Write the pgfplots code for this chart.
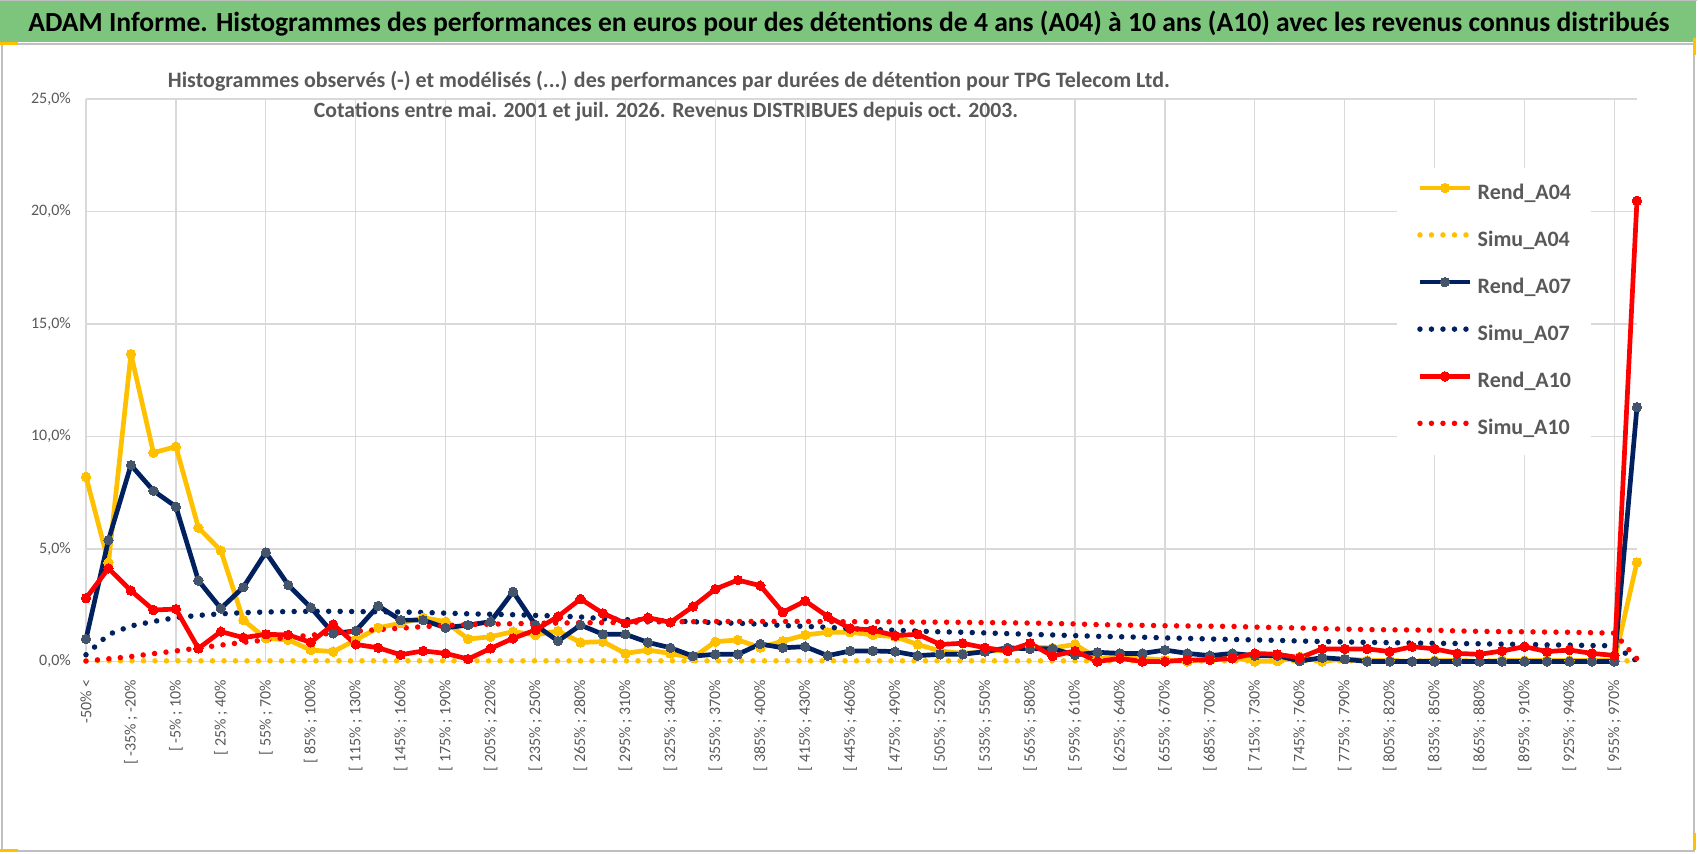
\documentclass[border=0pt]{standalone}
\usepackage{fontspec}
\setmainfont{Carlito}
\usepackage{pgfplots}
\usepackage{pgfplotstable}
\pgfplotsset{compat=1.18}
\definecolor{cYel}{HTML}{FFC000}
\definecolor{cNavy}{HTML}{002060}
\definecolor{cMark}{HTML}{44546A}
\definecolor{cRed}{HTML}{FF0000}
\definecolor{cGray}{HTML}{595959}
\definecolor{cGrid}{HTML}{D9D9D9}
\definecolor{cGreen}{HTML}{7DC57C}
\definecolor{cFrame}{HTML}{BFBFBF}

\pgfplotstableread{
i  A04   S04  A07   S07   A10   S10
0  8.21  0.03 1.00  0.30  2.81  0.02
1  4.40  0.03 5.40  1.20  4.14  0.12
2  13.67 0.03 8.73  1.58  3.15  0.22
3  9.28  0.03 7.59  1.78  2.29  0.35
4  9.55  0.03 6.88  1.95  2.33  0.47
5  5.95  0.03 3.60  2.05  0.58  0.60
6  4.93  0.03 2.36  2.12  1.33  0.73
7  1.84  0.03 3.30  2.17  1.06  0.85
8  1.03  0.03 4.85  2.20  1.21  0.96
9  0.96  0.03 3.40  2.22  1.18  1.07
10 0.51  0.03 2.40  2.23  0.85  1.17
11 0.44  0.03 1.25  2.23  1.65  1.26
12 0.96  0.03 1.36  2.22  0.76  1.34
13 1.50  0.03 2.47  2.21  0.61  1.42
14 1.70  0.03 1.84  2.20  0.30  1.48
15 1.95  0.03 1.84  2.18  0.47  1.55
16 1.77  0.03 1.50  2.15  0.36  1.60
17 1.00  0.03 1.62  2.12  0.11  1.64
18 1.10  0.03 1.77  2.10  0.58  1.66
19 1.33  0.03 3.10  2.08  1.03  1.68
20 1.18  0.03 1.62  2.05  1.40  1.70
21 1.36  0.03 0.91  2.02  2.00  1.71
22 0.85  0.03 1.62  1.98  2.78  1.72
23 0.88  0.03 1.21  1.90  2.14  1.73
24 0.36  0.03 1.21  1.86  1.70  1.74
25 0.51  0.03 0.85  1.84  1.95  1.76
26 0.36  0.03 0.61  1.80  1.74  1.77
27 0.17  0.03 0.24  1.77  2.44  1.77
28 0.88  0.03 0.32  1.72  3.22  1.78
29 0.96  0.03 0.32  1.70  3.62  1.78
30 0.62  0.03 0.78  1.66  3.37  1.78
31 0.91  0.03 0.61  1.60  2.19  1.78
32 1.18  0.03 0.66  1.56  2.69  1.78
33 1.30  0.03 0.26  1.52  2.00  1.77
34 1.30  0.03 0.47  1.46  1.47  1.77
35 1.18  0.03 0.47  1.42  1.40  1.77
36 1.10  0.03 0.44  1.39  1.15  1.76
37 0.76  0.03 0.26  1.35  1.21  1.75
38 0.47  0.03 0.32  1.32  0.76  1.75
39 0.36  0.03 0.32  1.30  0.81  1.74
40 0.44  0.03 0.44  1.27  0.61  1.73
41 0.51  0.03 0.61  1.24  0.47  1.72
42 0.66  0.03 0.56  1.21  0.81  1.71
43 0.60  0.03 0.57  1.18  0.24  1.69
44 0.76  0.03 0.29  1.15  0.47  1.67
45 0.14  0.03 0.41  1.12  0.00  1.64
46 0.21  0.03 0.36  1.10  0.14  1.62
47 0.14  0.03 0.36  1.08  0.00  1.61
48 0.07  0.03 0.51  1.05  0.00  1.59
49 0.00  0.03 0.36  1.03  0.07  1.58
50 0.14  0.03 0.26  1.00  0.07  1.57
51 0.21  0.03 0.36  0.98  0.14  1.56
52 0.00  0.03 0.26  0.96  0.36  1.53
53 0.02  0.03 0.26  0.94  0.32  1.51
54 0.21  0.03 0.02  0.91  0.17  1.49
55 0.00  0.03 0.17  0.89  0.56  1.46
56 0.12  0.03 0.10  0.87  0.56  1.44
57 0.05  0.03 0.00  0.85  0.56  1.42
58 0.05  0.03 0.00  0.84  0.44  1.41
59 0.00  0.03 0.00  0.82  0.66  1.40
60 0.05  0.03 0.00  0.81  0.56  1.39
61 0.05  0.03 0.00  0.80  0.36  1.36
62 0.00  0.03 0.00  0.79  0.32  1.34
63 0.05  0.03 0.00  0.77  0.47  1.33
64 0.05  0.03 0.00  0.76  0.66  1.32
65 0.05  0.03 0.00  0.74  0.44  1.31
66 0.05  0.03 0.00  0.73  0.51  1.30
67 0.05  0.03 0.00  0.71  0.36  1.28
68 0.05  0.03 0.00  0.70  0.27  1.26
69 4.41  0.03 11.30 0.02  20.48 0.12
}\data

\begin{document}
\begin{tikzpicture}
\path[use as bounding box, fill=white] (0,0) rectangle (1698bp,-854bp);
\fill[cGreen] (0,-1bp) rectangle (1696bp,-42bp);
\draw[cFrame, line width=1.5bp] (2bp,-44bp) rectangle (1694bp,-851bp);
\draw[cFrame, line width=1bp] (0.5bp,-0.5bp) -- (1697bp,-0.5bp);
\draw[cYel, line width=3bp] (0,-43bp) -- (18bp,-43bp);
\draw[cYel, line width=3bp] (1694bp,-38bp) -- (1694bp,-55bp);
\draw[cYel, line width=3bp] (1694bp,-833bp) -- (1694bp,-850bp);
\draw[cYel, line width=3bp] (0,-850bp) -- (18bp,-850bp);

\node[anchor=base, inner sep=0pt] at (849bp,-31.7bp) {\resizebox{1641bp}{!}{\fontsize{24bp}{28bp}\selectfont\bfseries ADAM Informe. Histogrammes des performances en euros pour des détentions de 4 ans (A04) à 10 ans (A10) avec les revenus connus distribués}};

\begin{axis}[
  at={(86bp,-661.5bp)}, anchor=south west,
  scale only axis, width=1551bp, height=562.5bp,
  xmin=0, xmax=69, ymin=0, ymax=25,
  clip=false,
  axis line style={draw=none},
  tick style={draw=none},
  xtick={0,2,...,68},
  xticklabels={{-50\% <},
    {[ -35\% ; -20\%},{[ -5\% ; 10\%},{[ 25\% ; 40\%},{[ 55\% ; 70\%},{[ 85\% ; 100\%},
    {[ 115\% ; 130\%},{[ 145\% ; 160\%},{[ 175\% ; 190\%},{[ 205\% ; 220\%},{[ 235\% ; 250\%},
    {[ 265\% ; 280\%},{[ 295\% ; 310\%},{[ 325\% ; 340\%},{[ 355\% ; 370\%},{[ 385\% ; 400\%},
    {[ 415\% ; 430\%},{[ 445\% ; 460\%},{[ 475\% ; 490\%},{[ 505\% ; 520\%},{[ 535\% ; 550\%},
    {[ 565\% ; 580\%},{[ 595\% ; 610\%},{[ 625\% ; 640\%},{[ 655\% ; 670\%},{[ 685\% ; 700\%},
    {[ 715\% ; 730\%},{[ 745\% ; 760\%},{[ 775\% ; 790\%},{[ 805\% ; 820\%},{[ 835\% ; 850\%},
    {[ 865\% ; 880\%},{[ 895\% ; 910\%},{[ 925\% ; 940\%},{[ 955\% ; 970\%}},
  minor xtick={0,4,...,68},
  xminorgrids=true, xmajorgrids=false,
  ytick={0,5,...,25},
  yticklabels={{0,0\%},{5,0\%},{10,0\%},{15,0\%},{20,0\%},{25,0\%}},
  ymajorgrids=true,
  major grid style={cGrid, line width=1.2bp},
  minor grid style={cGrid, line width=1.2bp},
  xticklabel style={rotate=90, anchor=east, inner sep=0pt, font=\fontsize{16bp}{18bp}\selectfont, text=cGray},
  xticklabel shift=18bp,
  yticklabel style={anchor=east, inner sep=0pt, font=\fontsize{16bp}{18bp}\selectfont, text=cGray},
  yticklabel shift=15bp,
  legend style={at={(0.8453,0.8773)}, anchor=north west, draw=none, fill=white,
    inner xsep=20bp, inner ysep=15bp, row sep=26bp, column sep=5bp,
    nodes={inner sep=0pt, text height=16bp, text depth=5bp, text=cGray,
      font=\fontsize{22bp}{26bp}\selectfont\bfseries}},
  legend cell align=left,
  legend image code/.code={\draw[mark repeat=2, mark phase=2, #1] plot coordinates {(0bp,6bp) (25bp,6bp) (50bp,6bp)};},
]
\addplot[cYel, line width=4.7bp, line join=round, mark=*, mark size=4.7bp,
  mark options={solid, fill=cYel, draw=cYel, line width=0pt}] table[x=i, y=A04] {\data};
\addplot[cYel, line width=5.5bp, line cap=round, dash pattern=on 0bp off 11.5bp] table[x=i, y=S04] {\data};
\addplot[cNavy, line width=4.7bp, line join=round, mark=*, mark size=4.7bp,
  mark options={solid, fill=cMark, draw=cMark, line width=0pt}] table[x=i, y=A07] {\data};
\addplot[cNavy, line width=5.5bp, line cap=round, dash pattern=on 0bp off 11.5bp] table[x=i, y=S07] {\data};
\addplot[cRed, line width=4.7bp, line join=round, mark=*, mark size=4.7bp,
  mark options={solid, fill=cRed, draw=cRed, line width=0pt}] table[x=i, y=A10] {\data};
\addplot[cRed, line width=5.5bp, line cap=round, dash pattern=on 0bp off 11.5bp] table[x=i, y=S10] {\data};
\legend{Rend\_A04, Simu\_A04, Rend\_A07, Simu\_A07, Rend\_A10, Simu\_A10}
\end{axis}

\node[anchor=base, inner sep=0pt, text=cGray] at (669bp,-87bp) {\resizebox{1002bp}{!}{\fontsize{20bp}{24bp}\selectfont\bfseries Histogrammes observés (-) et modélisés (...) des performances par durées de détention pour TPG Telecom Ltd.}};
\node[anchor=base, inner sep=0pt, text=cGray] at (666bp,-117bp) {\resizebox{704bp}{!}{\fontsize{20bp}{24bp}\selectfont\bfseries Cotations entre mai. 2001 et juil. 2026. Revenus DISTRIBUES depuis oct. 2003.}};
\end{tikzpicture}
\end{document}
